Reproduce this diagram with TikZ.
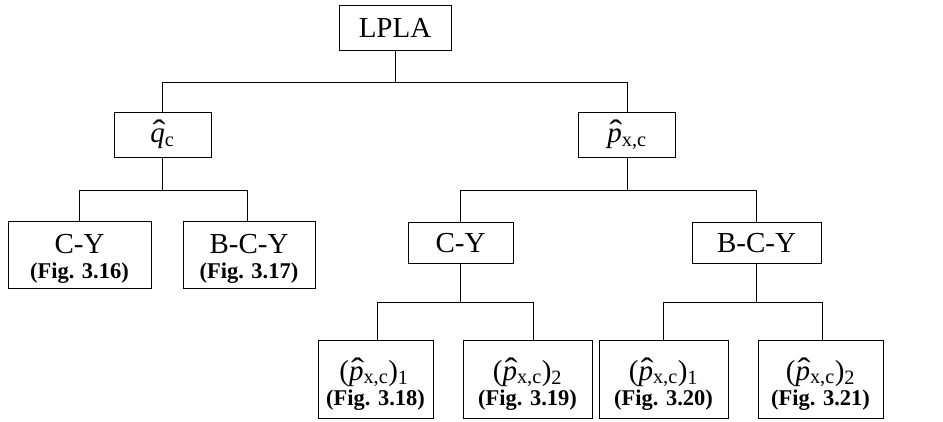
\documentclass[tikz,border=0pt]{standalone}
\usepackage{fontspec}
\setmainfont{Liberation Serif}
\newcommand{\hatit}[1]{\makebox[0pt][l]{\hspace{0.07em}\scalebox{1.35}[1.12]{\char"02C6}}\textit{#1}}
\tikzset{
  box/.style={draw, line width=0.9pt, inner sep=0pt},
  maintxt/.style={font=\fontsize{29}{30}\selectfont, inner sep=0pt, anchor=base},
  figtxt/.style={font=\fontsize{22.5}{24}\selectfont\bfseries, inner sep=0pt, anchor=base},
  wire/.style={line width=0.9pt}
}
\begin{document}
\begin{tikzpicture}[x=1pt,y=-1pt]
\useasboundingbox (0,0) rectangle (943,422);
\coordinate (bar1) at (0,82);
\coordinate (bar2) at (0,190);
\coordinate (bar3) at (0,302);
% boxes
\node[box, minimum width=112pt, minimum height=45pt] (lpla) at (395,27.5) {};
\node[box, minimum width=97pt, minimum height=45pt] (q) at (162.5,134.5) {};
\node[box, minimum width=97pt, minimum height=45pt] (p) at (627,134.5) {};
\node[box, minimum width=143pt, minimum height=67pt] (lcy) at (79.5,254.5) {};
\node[box, minimum width=132pt, minimum height=67pt] (lbcy) at (249,254.5) {};
\node[box, minimum width=105pt, minimum height=41pt] (rcy) at (460.5,242.5) {};
\node[box, minimum width=129pt, minimum height=41pt] (rbcy) at (756.5,242.5) {};
\node[box, minimum width=115pt, minimum height=78pt] (b1) at (375.5,379) {};
\node[box, minimum width=129pt, minimum height=78pt] (b2) at (527.5,379) {};
\node[box, minimum width=129pt, minimum height=78pt] (b3) at (663.5,379) {};
\node[box, minimum width=125pt, minimum height=78pt] (b4) at (820.5,379) {};
% texts
\node[maintxt] (lpla-t) at (395,38) {LPLA};
\node[maintxt] (q-t) at (162.5,143) {\hatit{q}\textsubscript{c}};
\node[maintxt] (p-t) at (627,143) {\hatit{p}\textsubscript{x,c}};
\node[maintxt] (lcy-t) at (79.5,254) {C-Y};
\node[figtxt] (lcy-f) at (79.5,279) {(Fig. 3.16)};
\node[maintxt] (lbcy-t) at (249,254) {B-C-Y};
\node[figtxt] (lbcy-f) at (249,279) {(Fig. 3.17)};
\node[maintxt] (rcy-t) at (460.5,253) {C-Y};
\node[maintxt] (rbcy-t) at (756.5,253) {B-C-Y};
\node[maintxt] (b1-t) at (374,380) {(\hatit{p}\textsubscript{x,c})\textsubscript{1}};
\node[figtxt] (b1-f) at (375.5,405) {(Fig. 3.18)};
\node[maintxt] (b2-t) at (527.5,380) {(\hatit{p}\textsubscript{x,c})\textsubscript{2}};
\node[figtxt] (b2-f) at (527.5,405) {(Fig. 3.19)};
\node[maintxt] (b3-t) at (663.5,380) {(\hatit{p}\textsubscript{x,c})\textsubscript{1}};
\node[figtxt] (b3-f) at (663.5,405) {(Fig. 3.20)};
\node[maintxt] (b4-t) at (820.5,380) {(\hatit{p}\textsubscript{x,c})\textsubscript{2}};
\node[figtxt] (b4-f) at (820.5,405) {(Fig. 3.21)};
% connectors
\draw[wire] (lpla.south) -- (lpla.south |- bar1);
\draw[wire] (q.north) -- (q.north |- bar1) -- (p.north |- bar1) -- (p.north);
\draw[wire] (q.south) -- (q.south |- bar2);
\draw[wire] (lcy.north) -- (lcy.north |- bar2) -- ([xshift=-2pt]lbcy.north |- bar2) -- ([xshift=-2pt]lbcy.north);
\draw[wire] (p.south) -- (p.south |- bar2);
\draw[wire] (rcy.north) -- (rcy.north |- bar2) -- (rbcy.north |- bar2) -- (rbcy.north);
\draw[wire] (rcy.south) -- (rcy.south |- bar3);
\draw[wire] ([xshift=1.5pt]b1.north) -- ([xshift=1.5pt]b1.north |- bar3) -- ([xshift=5.5pt]b2.north |- bar3) -- ([xshift=5.5pt]b2.north);
\draw[wire] (rbcy.south) -- (rbcy.south |- bar3);
\draw[wire] (b3.north) -- (b3.north |- bar3) -- ([xshift=1.5pt]b4.north |- bar3) -- ([xshift=1.5pt]b4.north);
\end{tikzpicture}
\end{document}
